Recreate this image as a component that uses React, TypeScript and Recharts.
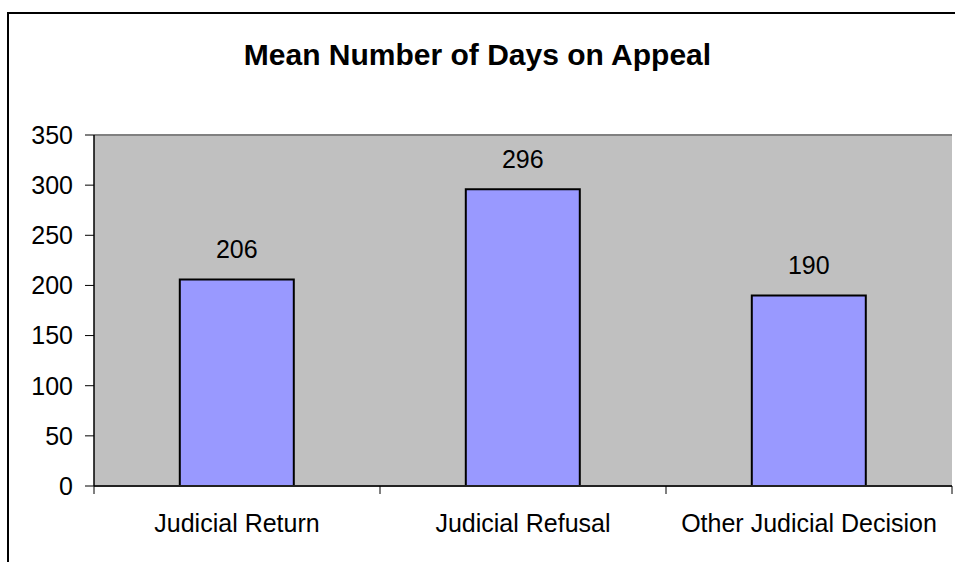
import React from 'react';
import {
  BarChart, Bar, XAxis, YAxis, CartesianGrid, LabelList, ReferenceLine,
} from 'recharts';

// chart values
const categories = ['Judicial Return', 'Judicial Refusal', 'Other Judicial Decision'];
const meanDays = [206, 296, 190];
const yTicks = [0, 50, 100, 150, 200, 250, 300, 350];

const FONT = '"Liberation Sans", Arial, sans-serif';
const COLORS = {
  BAR: '#9999FF',
  PLOT_BG: '#C0C0C0',
  PLOT_EDGE: '#808080',
};

const data = categories.map((name, i) => ({ name, days: meanDays[i] }));

// category label + tick marks on the band edges (Excel style)
const EdgeTick = (props: any) => {
  const { x, y, payload, index, visibleTicksCount, width } = props;
  const half = payload && payload.offset ? payload.offset : width / visibleTicksCount / 2;
  const isLast = index === visibleTicksCount - 1;
  return (
    <g>
      <line x1={x - half} x2={x - half} y1={y - 28} y2={y - 20} stroke="#000" strokeWidth={1} />
      {isLast && (
        <line x1={x + half} x2={x + half} y1={y - 28} y2={y - 20} stroke="#000" strokeWidth={1} />
      )}
      <text
        x={x}
        y={y}
        dy="0.71em"
        textAnchor="middle"
        fontSize={25}
        fontFamily={FONT}
        fill="#000"
      >
        {payload.value}
      </text>
    </g>
  );
};

export default function App() {
  return (
    <div style={{ position: 'absolute', left: 0, top: 0, width: 955, height: 562, overflow: 'hidden', background: '#fff' }}>
      <div
        style={{
          position: 'absolute', left: 7, top: 12, width: 1100, height: 1000,
          border: '2px solid #000', boxSizing: 'border-box',
        }}
      />
      <div
        style={{
          position: 'absolute', left: 0, top: 40, width: 955, textAlign: 'center',
          fontFamily: FONT, fontWeight: 'bold', fontSize: 30, lineHeight: 1, color: '#000',
        }}
      >
        Mean Number of Days on Appeal
      </div>
      <div style={{ position: 'absolute', left: 0, top: 0 }}>
        <BarChart
          width={955}
          height={562}
          data={data}
          margin={{ top: 135, right: 3, left: 0, bottom: 0 }}
          barCategoryGap="30%"
        >
          <CartesianGrid horizontal={false} vertical={false} fill={COLORS.PLOT_BG} />
          <XAxis
            dataKey="name"
            height={76}
            tickLine={false}
            tickSize={0}
            tickMargin={28}
            axisLine={{ stroke: '#222', strokeWidth: 2 }}
            tick={<EdgeTick />}
            interval={0}
          />
          <YAxis
            width={94}
            domain={[0, 350]}
            ticks={yTicks}
            interval={0}
            tickSize={9}
            tickMargin={12}
            axisLine={{ stroke: '#000', strokeWidth: 1.5 }}
            tickLine={{ stroke: '#000', strokeWidth: 1 }}
            tick={{ fontSize: 25, fill: '#000', fontFamily: FONT }}
          />
          <YAxis
            yAxisId="right"
            orientation="right"
            width={0}
            domain={[0, 350]}
            tick={false}
            tickLine={false}
            axisLine={{ stroke: COLORS.PLOT_EDGE, strokeWidth: 2 }}
          />
          <ReferenceLine y={350} stroke={COLORS.PLOT_EDGE} strokeWidth={2} />
          <Bar
            dataKey="days"
            fill={COLORS.BAR}
            stroke="#000"
            strokeWidth={2}
            isAnimationActive={false}
          >
            <LabelList
              dataKey="days"
              position="top"
              offset={21}
              fill="#000"
              fontSize={25}
              fontFamily={FONT}
            />
          </Bar>
        </BarChart>
      </div>
    </div>
  );
}
